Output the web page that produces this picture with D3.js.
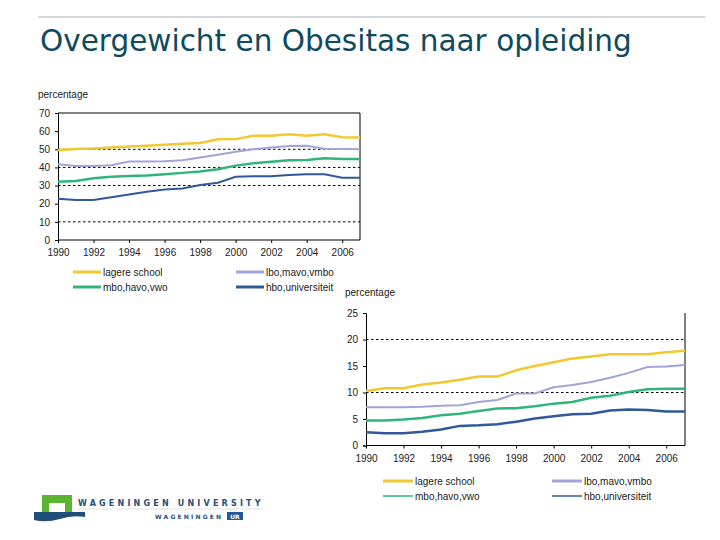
<!DOCTYPE html>
<html>
<head>
<meta charset="utf-8">
<script src="https://cdn.jsdelivr.net/npm/d3@7"></script>
<style>
  body { margin: 0; background: #fff; }
  svg { display: block; }
  .axis text { font-family: 'Liberation Sans', Arial, sans-serif; font-size: 10px; fill: #222; }
  .lbl { font-family: 'Liberation Sans', Arial, sans-serif; font-size: 10px; fill: #222; }
</style>
</head>
<body>
<div id="chart"></div>
<script>
// data
const years = d3.range(1990, 2008);
const seriesNames = ['lagere school', 'lbo,mavo,vmbo', 'mbo,havo,vwo', 'hbo,universiteit'];
const seriesColors = ['#f0c830', '#a3a3dc', '#2fb57c', '#30589a'];

// overgewicht (percentage)
const overLagere = [49.6, 50.2, 50.5, 51, 51.5, 52, 52.5, 53, 53.5, 55.5, 55.6, 57.5, 57.5, 58.3, 57.5, 58.3, 56.6, 56.5];
const overLbo = [41.8, 40.8, 40.8, 41.2, 43.3, 43.3, 43.4, 44, 45.5, 47, 48.6, 50, 51, 51.8, 52, 50.3, 50.1, 50];
const overMbo = [32.1, 32.5, 34, 34.9, 35.3, 35.6, 36.2, 37, 37.7, 39, 41, 42.3, 43.1, 44, 44.1, 45.1, 44.6, 44.6];
const overHbo = [22.8, 22.1, 22.1, 23.6, 25.1, 26.6, 27.8, 28.4, 30.3, 31.6, 34.9, 35.1, 35.1, 35.8, 36.2, 36.2, 34.3, 34.3];

// obesitas (percentage)
const obesLagere = [10.3, 10.8, 10.8, 11.5, 11.9, 12.4, 13.0, 13.0, 14.2, 15.0, 15.7, 16.4, 16.8, 17.2, 17.2, 17.2, 17.6, 17.9];
const obesLbo = [7.2, 7.2, 7.2, 7.3, 7.5, 7.6, 8.2, 8.6, 9.8, 9.8, 11.0, 11.4, 12.0, 12.8, 13.7, 14.8, 14.9, 15.2];
const obesMbo = [4.7, 4.7, 4.9, 5.2, 5.7, 6.0, 6.5, 7.0, 7.05, 7.4, 7.9, 8.2, 9.0, 9.4, 10.1, 10.6, 10.7, 10.7];
const obesHbo = [2.5, 2.3, 2.3, 2.6, 3.0, 3.7, 3.8, 4.0, 4.5, 5.1, 5.5, 5.9, 6.0, 6.6, 6.8, 6.7, 6.4, 6.4];

const xTicks = [1990, 1992, 1994, 1996, 1998, 2000, 2002, 2004, 2006];
const yTicks1 = [0, 10, 20, 30, 40, 50, 60, 70];
const grid1 = [10, 30, 40, 50];
const yTicks2 = [0, 5, 10, 15, 20, 25];
const grid2 = [10, 20];

const width = 720;
const height = 540;
const svg = d3.select('#chart').append('svg')
    .attr('width', width)
    .attr('height', height);

// header
svg.append('line')
    .attr('x1', 38).attr('x2', 705).attr('y1', 17).attr('y2', 17)
    .attr('stroke', '#a6b2b8').attr('stroke-width', 1);
svg.append('text')
    .attr('x', 40).attr('y', 51)
    .style('font-family', "'DejaVu Sans', Verdana, sans-serif")
    .style('font-size', '29.5px')
    .style('fill', '#0f4a5e')
    .text('Overgewicht en Obesitas naar opleiding');

function drawChart(opt) {
    const x = d3.scaleLinear().domain([1990, 2007]).range(opt.xRange);
    const y = d3.scaleLinear().domain(opt.yDomain).range(opt.yRange);
    const g = svg.append('g');

    // gridlines
    g.selectAll('line.grid')
        .data(opt.grid)
        .enter()
        .append('line')
        .attr('class', 'grid')
        .attr('x1', x(1990)).attr('x2', x(2007))
        .attr('y1', (d) => y(d)).attr('y2', (d) => y(d))
        .attr('stroke', '#000').attr('stroke-width', 1)
        .attr('stroke-dasharray', '2.5,2.5');

    // frame
    g.append('line')
        .attr('x1', x(2007)).attr('x2', x(2007))
        .attr('y1', y(opt.yDomain[1])).attr('y2', y(0))
        .attr('stroke', '#000');
    if (opt.topBorder) {
        g.append('line')
            .attr('x1', x(1990)).attr('x2', x(2007))
            .attr('y1', y(opt.yDomain[1])).attr('y2', y(opt.yDomain[1]))
            .attr('stroke', '#000');
    }

    const xAxis = d3.axisBottom(x).tickValues(xTicks).tickFormat(d3.format('d'))
        .tickSize(3).tickPadding(6);
    g.append('g')
        .attr('class', 'axis')
        .attr('transform', `translate(0,${y(0)})`)
        .call(xAxis)
        .call((s) => s.select('.domain').attr('d', `M${x(1990)},0H${x(2007)}`));

    const yAxis = d3.axisLeft(y).tickValues(opt.yTicks).tickSize(3).tickPadding(5);
    g.append('g')
        .attr('class', 'axis')
        .attr('transform', `translate(${x(1990)},0)`)
        .call(yAxis);

    g.append('text')
        .attr('class', 'lbl')
        .attr('x', opt.labelPos[0]).attr('y', opt.labelPos[1])
        .text('percentage');

    const line = d3.line()
        .x((d, i) => x(years[i]))
        .y((d) => y(d));

    opt.series.forEach((vals, i) => {
        g.append('path')
            .datum(vals)
            .attr('d', line)
            .attr('fill', 'none')
            .attr('stroke', seriesColors[i])
            .attr('stroke-width', opt.lineWidths[i]);
    });

    // legend
    seriesNames.forEach((name, i) => {
        const col = i % 2;
        const row = Math.floor(i / 2);
        const lx = opt.legend.x[col];
        const ly = opt.legend.y + row * 15;
        g.append('line')
            .attr('x1', lx).attr('x2', lx + opt.legend.len)
            .attr('y1', ly).attr('y2', ly)
            .attr('stroke', seriesColors[i])
            .attr('stroke-width', opt.legendWidths[i]);
        g.append('text')
            .attr('class', 'lbl')
            .attr('x', lx + opt.legend.len + 2).attr('y', ly + 4)
            .text(name);
    });
}

drawChart({
    xRange: [58, 360],
    yDomain: [0, 70],
    yRange: [240, 113],
    yTicks: yTicks1,
    grid: grid1,
    topBorder: true,
    labelPos: [38, 98],
    series: [overLagere, overLbo, overMbo, overHbo],
    lineWidths: [2.5, 2, 2.5, 2],
    legendWidths: [3, 3, 3, 3],
    legend: { x: [73, 236], y: 272, len: 28 },
});

drawChart({
    xRange: [366, 685],
    yDomain: [0, 25],
    yRange: [445.5, 313],
    yTicks: yTicks2,
    grid: grid2,
    topBorder: false,
    labelPos: [345, 296],
    series: [obesLagere, obesLbo, obesMbo, obesHbo],
    lineWidths: [2.5, 2, 2.5, 2.5],
    legendWidths: [3, 3, 1.5, 1.5],
    legend: { x: [383, 552], y: 481, len: 30 },
});

// logo
const logo = svg.append('g');
logo.append('path')
    .attr('d', 'M42,495H72V513H65V503H49V513H42Z')
    .attr('fill', '#5cb531');
logo.append('path')
    .attr('d', 'M34,512H85V517Q72,515 60,519Q46,523 34,520Z')
    .attr('fill', '#1f4e79');
logo.append('text')
    .attr('x', 78).attr('y', 506)
    .style('font-family', "'DejaVu Sans', Verdana, sans-serif")
    .style('font-size', '8px')
    .style('font-weight', 'bold')
    .style('letter-spacing', '3.2px')
    .style('fill', '#24507d')
    .text('WAGENINGEN UNIVERSITY');
logo.append('line')
    .attr('x1', 78).attr('x2', 263).attr('y1', 509).attr('y2', 509)
    .attr('stroke', '#c8ccd0').attr('stroke-width', 0.6);
logo.append('text')
    .attr('x', 155).attr('y', 519)
    .style('font-family', "'DejaVu Sans', Verdana, sans-serif")
    .style('font-size', '6px')
    .style('font-weight', 'bold')
    .style('letter-spacing', '2.2px')
    .style('fill', '#24507d')
    .text('WAGENINGEN');
logo.append('rect')
    .attr('x', 227).attr('y', 512).attr('width', 16).attr('height', 8)
    .attr('fill', '#1f5a96');
logo.append('text')
    .attr('x', 235).attr('y', 519)
    .attr('text-anchor', 'middle')
    .style('font-family', "'DejaVu Sans', Verdana, sans-serif")
    .style('font-size', '6px')
    .style('font-weight', 'bold')
    .style('fill', '#fff')
    .text('UR');
</script>
</body>
</html>
